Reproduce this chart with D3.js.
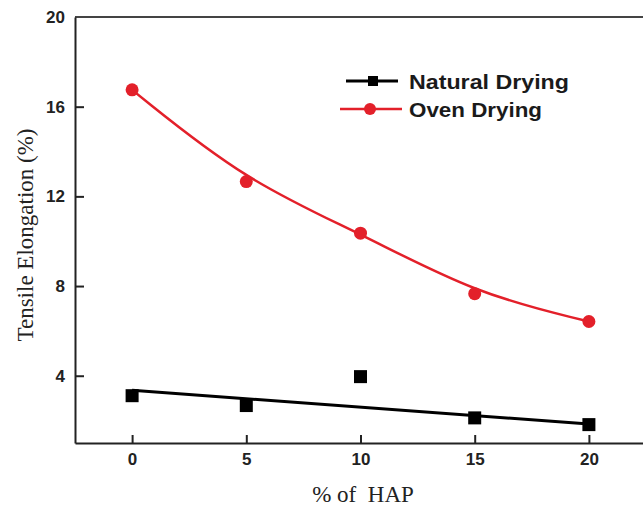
<!DOCTYPE html>
<html>
<head>
<meta charset="utf-8">
<script src="https://cdn.jsdelivr.net/npm/d3@7"></script>
<style>
  body { margin:0; background:#fff; }
  .tick text { font-family:"Liberation Sans", Arial, sans-serif; font-weight:bold; font-size:17px; fill:#222; }
  .axis path, .axis line { stroke:#222; stroke-width:2; }
  .title { font-family:"Liberation Serif", "Times New Roman", serif; fill:#222; white-space:pre; }
  .legend text { font-family:"Liberation Sans", Arial, sans-serif; font-weight:bold; font-size:21px; fill:#1a1a1a; }
</style>
</head>
<body>
<svg id="chart" width="643" height="506"></svg>
<script>
// values
var hap = [0, 5, 10, 15, 20];
var naturalDrying = [3.11, 2.67, 3.96, 2.12, 1.82];
var ovenDrying = [16.75, 12.66, 10.36, 7.66, 6.42];
// straight fit drawn for natural drying, value at x=0 and x=20
var naturalFitX = [0, 20];
var naturalFitY = [3.35, 1.85];
var xTicks = [0, 5, 10, 15, 20];
var yTicks = [4, 8, 12, 16, 20];

var red = "#e3202a";
var svg = d3.select("#chart");

var x = d3.scaleLinear().domain([-2.5, 22.5]).range([75, 646]);
var y = d3.scaleLinear().domain([1, 20]).range([443, 17]);

// frame (top and right side)
svg.append("path")
  .attr("d", "M" + x(-2.5) + "," + y(20) + "H" + x(22.5) + "V" + y(1))
  .attr("fill", "none").attr("stroke", "#444").attr("stroke-width", 2);

svg.append("g").attr("class", "axis")
  .attr("transform", "translate(0," + y(1) + ")")
  .call(d3.axisBottom(x).tickValues(xTicks).tickSize(-8).tickSizeOuter(0).tickPadding(10));

svg.append("g").attr("class", "axis")
  .attr("transform", "translate(" + x(-2.5) + ",0)")
  .call(d3.axisLeft(y).tickValues(yTicks).tickSize(-9).tickSizeOuter(0).tickPadding(10))
  .selectAll(".tick").filter(function(d){ return d == 20; }).select("line").remove();

// natural drying: fit line then squares
svg.append("path")
  .datum(d3.zip(naturalFitX, naturalFitY))
  .attr("d", d3.line().x(function(d){ return x(d[0]); }).y(function(d){ return y(d[1]); }))
  .attr("fill", "none").attr("stroke", "#000").attr("stroke-width", 3);

svg.selectAll(".sq").data(d3.zip(hap, naturalDrying)).enter().append("rect")
  .attr("class", "sq")
  .attr("x", function(d){ return x(d[0]) - 6.5; })
  .attr("y", function(d){ return y(d[1]) - 6.5; })
  .attr("width", 13).attr("height", 13)
  .attr("fill", "#000");

// oven drying: smooth b-spline then dots
svg.append("path")
  .datum(d3.zip(hap, ovenDrying))
  .attr("d", d3.line().curve(d3.curveBasis).x(function(d){ return x(d[0]); }).y(function(d){ return y(d[1]); }))
  .attr("fill", "none").attr("stroke", red).attr("stroke-width", 2.5);

svg.selectAll(".dot").data(d3.zip(hap, ovenDrying)).enter().append("circle")
  .attr("class", "dot")
  .attr("cx", function(d){ return x(d[0]); })
  .attr("cy", function(d){ return y(d[1]); })
  .attr("r", 6.5)
  .attr("fill", red);

// axis titles
svg.append("text").attr("class", "title")
  .attr("x", 363).attr("y", 502)
  .attr("text-anchor", "middle").style("font-size", "23px")
  .text("% of  HAP");

svg.append("text").attr("class", "title")
  .attr("transform", "translate(33,235) rotate(-90)")
  .attr("text-anchor", "middle").style("font-size", "23px")
  .text("Tensile Elongation (%)");

// legend
var legend = svg.append("g").attr("class", "legend");
var items = [
  {name:"Natural Drying", color:"#000", shape:"square", y:81, x1:346, x2:398, w:160},
  {name:"Oven Drying", color:red, shape:"circle", y:109, x1:340, x2:402, w:133}
];
items.forEach(function(it){
  legend.append("line")
    .attr("x1", it.x1).attr("x2", it.x2).attr("y1", it.y).attr("y2", it.y)
    .attr("stroke", it.color).attr("stroke-width", it.shape == "square" ? 3 : 2.5);
  if (it.shape == "square") {
    legend.append("rect").attr("x", 368).attr("y", it.y - 5).attr("width", 10).attr("height", 10).attr("fill", it.color);
  } else {
    legend.append("circle").attr("cx", 370).attr("cy", it.y).attr("r", 6).attr("fill", it.color);
  }
  legend.append("text")
    .attr("x", 409).attr("y", it.y + 8)
    .attr("textLength", it.w).attr("lengthAdjust", "spacingAndGlyphs")
    .text(it.name);
});
</script>
</body>
</html>
